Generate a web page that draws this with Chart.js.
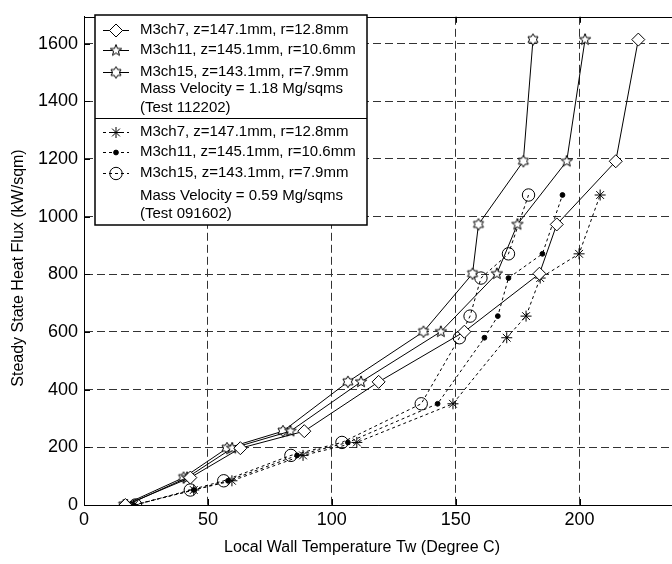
<!DOCTYPE html>
<html>
<head>
<meta charset="utf-8">
<script src="https://cdn.jsdelivr.net/npm/chart.js@4/dist/chart.umd.min.js"></script>
<style>
  html, body { margin: 0; padding: 0; background: #fff; }
</style>
</head>
<body>
<canvas id="flux" width="672" height="564"></canvas>
<script>
// Test 112202, mass velocity 1.18 Mg/sqms
var fluxHigh = [0, 95, 197, 256, 427, 601, 802, 973, 1192, 1614];
var ch7High  = [16.7, 42.9, 63.1, 88.9, 118.9, 153.5, 183.8, 190.8, 214.6, 223.7];
var ch11High = [17.4, 41.6, 59.8, 83.3, 111.8, 144.0, 166.6, 174.9, 194.8, 202.2];
var ch15High = [16.0, 40.2, 57.7, 80.3, 106.5, 137.0, 156.8, 159.2, 177.3, 181.2];

// Test 091602, mass velocity 0.59 Mg/sqms
var fluxLow = [0, 52, 84, 172, 217, 351, 580, 655, 787, 871, 1075];
var ch7Low  = [20.1, 44.3, 59.7, 88.4, 110.1, 148.9, 170.6, 178.4, 184.1, 199.8, 208.3];
var ch11Low = [20.0, 44.3, 58.1, 86.0, 106.5, 142.7, 161.6, 167.0, 171.3, 185.0, 193.1];
var ch15Low = [20.8, 42.9, 56.4, 83.5, 104.1, 136.1, 151.5, 155.8, 160.2, 171.3, 179.4];

var seriesLabels = [
  'M3ch7, z=147.1mm, r=12.8mm',
  'M3ch11, z=145.1mm, r=10.6mm',
  'M3ch15, z=143.1mm, r=7.9mm',
  'M3ch7, z=147.1mm, r=12.8mm',
  'M3ch11, z=145.1mm, r=10.6mm',
  'M3ch15, z=143.1mm, r=7.9mm'
];
var noteHigh = ['Mass Velocity = 1.18 Mg/sqms', '(Test 112202)'];
var noteLow  = ['Mass Velocity = 0.59 Mg/sqms', '(Test 091602)'];

var xTitle = 'Local Wall Temperature Tw (Degree C)';
var yTitle = 'Steady State Heat Flux (kW/sqm)';
var xTickStep = 50, yTickStep = 200;

var FONT = '"Liberation Sans", Arial, Helvetica, sans-serif';

function pts(xs, ys) {
  var out = [];
  for (var i = 0; i < xs.length; i++) out.push({x: xs[i], y: ys[i]});
  return out;
}

// star markers (pentagram / hexagram) as small canvases
function starMarker(n, ro, ri) {
  var size = 16, m = size / 2;
  var c = document.createElement('canvas');
  c.width = size; c.height = size;
  var g = c.getContext('2d');
  g.strokeStyle = '#000';
  g.fillStyle = '#fff';
  g.lineWidth = 1;
  g.beginPath();
  for (var i = 0; i < n * 2; i++) {
    var r = i % 2 ? ri : ro;
    var a = -Math.PI / 2 + i * Math.PI / n;
    var px = m + r * Math.cos(a), py = m + r * Math.sin(a);
    if (i) g.lineTo(px, py); else g.moveTo(px, py);
  }
  g.closePath();
  g.fill(); g.stroke();
  return c;
}
var mkPenta = starMarker(5, 6, 2.5);
var mkHexa = starMarker(6, 5.8, 3.4);

function ds(i, data, style, radius, fill, dashed) {
  return {
    label: seriesLabels[i],
    data: data,
    borderColor: '#000',
    backgroundColor: fill,
    borderWidth: 1,
    borderDash: dashed ? [3, 3] : [],
    pointStyle: style,
    pointRadius: radius,
    pointBorderColor: '#000',
    pointBackgroundColor: fill,
    pointBorderWidth: 1,
    tension: 0
  };
}

var datasets = [
  ds(0, pts(ch7High, fluxHigh), 'rectRot', 6.5, '#fff', false),
  ds(1, pts(ch11High, fluxHigh), mkPenta, 6, '#fff', false),
  ds(2, pts(ch15High, fluxHigh), mkHexa, 6, '#fff', false),
  ds(3, pts(ch7Low, fluxLow), 'star', 5.5, '#fff', true),
  ds(4, pts(ch11Low, fluxLow), 'circle', 2.4, '#000', true),
  ds(5, pts(ch15Low, fluxLow), 'circle', 6.2, 'rgba(255,255,255,0)', true)
];

function onSteps(step) {
  return function(scale) {
    scale.ticks = scale.ticks.filter(function(t) {
      return Math.abs(t.value / step - Math.round(t.value / step)) < 1e-6;
    });
  };
}

// box top edge, inward tick marks, axis titles
var frame = {
  id: 'frame',
  afterDraw: function(chart) {
    var c = chart.ctx, a = chart.chartArea;
    var xs = chart.scales.x, ys = chart.scales.y;
    c.save();
    c.strokeStyle = '#000';
    c.lineWidth = 1;
    c.beginPath();
    c.moveTo(a.left, Math.round(a.top) + 0.5);
    c.lineTo(a.right, Math.round(a.top) + 0.5);
    xs.ticks.forEach(function(t) {
      var px = Math.round(xs.getPixelForValue(t.value)) + 0.5;
      c.moveTo(px, a.bottom); c.lineTo(px, a.bottom - 6);
      c.moveTo(px, a.top); c.lineTo(px, a.top + 6);
    });
    ys.ticks.forEach(function(t) {
      var py = Math.round(ys.getPixelForValue(t.value)) + 0.5;
      c.moveTo(a.left, py); c.lineTo(a.left + 6, py);
    });
    c.stroke();

    c.fillStyle = '#000';
    c.font = '16px ' + FONT;
    c.textAlign = 'center';
    c.textBaseline = 'middle';
    c.fillText(xTitle, 362, 548);
    c.translate(19, 268);
    c.rotate(-Math.PI / 2);
    c.fillText(yTitle, 0, 0);
    c.restore();
  }
};

// two-part legend in the upper left
var legendBox = {
  id: 'legendBox',
  afterDraw: function(chart) {
    var c = chart.ctx;
    var L = 95, T = 15, R = 367, B = 225, D = 118;
    c.save();
    c.fillStyle = '#fff';
    c.fillRect(L, T, R - L, B - T);
    c.strokeStyle = '#000';
    c.lineWidth = 1.5;
    c.strokeRect(L, T, R - L, B - T);
    c.lineWidth = 1;
    c.beginPath(); c.moveTo(L, D + 0.5); c.lineTo(R, D + 0.5); c.stroke();

    var rows = [30, 50, 71.5, 131.5, 151.5, 173];
    c.font = '15px ' + FONT;
    c.textAlign = 'left';
    c.textBaseline = 'middle';
    datasets.forEach(function(d, i) {
      var y = rows[i];
      c.save();
      c.strokeStyle = '#000';
      c.lineWidth = 1;
      c.setLineDash(d.borderDash);
      c.beginPath(); c.moveTo(103, Math.round(y) + 0.5); c.lineTo(129, Math.round(y) + 0.5); c.stroke();
      c.setLineDash([]);
      c.fillStyle = d.pointBackgroundColor;
      c.strokeStyle = '#000';
      Chart.helpers.drawPoint(c, {
        pointStyle: d.pointStyle, radius: d.pointRadius, borderWidth: 1, rotation: 0
      }, 116, Math.round(y) + 0.5);
      c.restore();
      c.fillStyle = '#000';
      c.fillText(d.label, 140, y);
    });
    c.fillText(noteHigh[0], 140, 89);
    c.fillText(noteHigh[1], 140, 107.5);
    c.fillText(noteLow[0], 140, 196);
    c.fillText(noteLow[1], 140, 213.5);
    c.restore();
  }
};

var ctx = document.getElementById('flux');

var fluxChart = new Chart(ctx, {
  type: 'line',
  data: { datasets: datasets },
  options: {
    responsive: false,
    animation: false,
    devicePixelRatio: 1,
    layout: { padding: { left: 0, right: 0, top: 10, bottom: 0 }, autoPadding: false },
    plugins: { legend: { display: false }, tooltip: { enabled: false } },
    scales: {
      x: {
        type: 'linear',
        min: 0,
        max: 237.3,
        afterBuildTicks: onSteps(xTickStep),
        afterFit: function(s) { s.height = 59; },
        ticks: {
          stepSize: xTickStep, padding: 4, color: '#000', font: { size: 18, family: FONT },
          callback: function(v) { return String(v); }
        },
        grid: { color: '#333', lineWidth: 1, drawTicks: false },
        border: { color: '#000', width: 1, dash: [8, 4] }
      },
      y: {
        type: 'linear',
        min: 0,
        max: 1693,
        afterBuildTicks: onSteps(yTickStep),
        afterFit: function(s) { s.width = 84; },
        ticks: {
          stepSize: yTickStep, padding: 6, color: '#000', font: { size: 18, family: FONT },
          callback: function(v) { return String(v); }
        },
        grid: { color: '#333', lineWidth: 1, drawTicks: false },
        border: { color: '#000', width: 1, dash: [8, 4] }
      }
    }
  },
  plugins: [frame, legendBox]
});
</script>
</body>
</html>
